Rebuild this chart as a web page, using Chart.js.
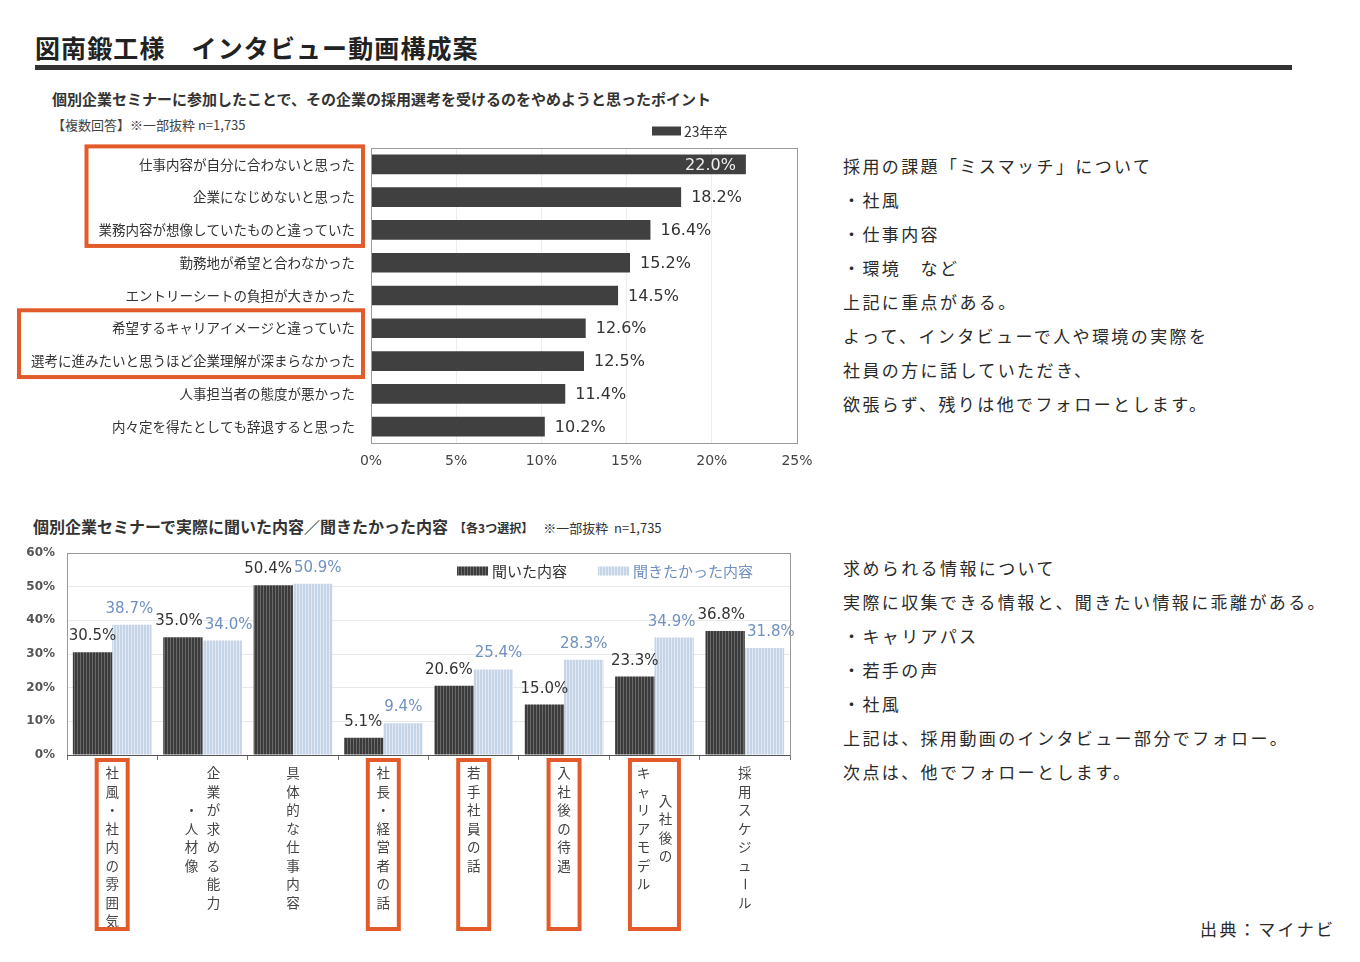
<!DOCTYPE html>
<html lang="ja">
<head>
<meta charset="utf-8">
<title>図南鍛工様 インタビュー動画構成案</title>
<script src="https://cdn.jsdelivr.net/npm/chart.js@4.4.0/dist/chart.umd.min.js"></script>
<style>
  body { margin: 0; background: #fff; font-family: "Noto Sans CJK JP", sans-serif; color: #333; }
  #page { position: relative; width: 1360px; height: 962px; overflow: hidden; }
  .abs { position: absolute; white-space: nowrap; }
  #title { left: 35px; top: 30px; font-size: 25px; font-weight: 700; line-height: 34px; letter-spacing: 1.1px; color: #222; }
  #rule { left: 35px; top: 65px; width: 1257px; height: 5px; background: #333; }
  #sub1 { left: 52px; top: 89px; font-size: 15px; font-weight: 700; line-height: 20px; color: #333; }
  #note1 { left: 52px; top: 116px; font-size: 13px; line-height: 18px; color: #444; }
  #sub2 { left: 33px; top: 515px; font-size: 16px; font-weight: 700; line-height: 22px; color: #333; }
  #sub2 .small { font-size: 12px; margin-left: 6px; }
  #sub2 .note { font-size: 13px; font-weight: 400; margin-left: 10px; }
  .memo { left: 843px; font-size: 17px; line-height: 34px; letter-spacing: 2.4px; color: #2a2a2a; }
  #memo1 { top: 149px; }
  #memo2 { top: 551px; }
  #source { left: 1200px; top: 912px; font-size: 17px; line-height: 34px; letter-spacing: 2.4px; color: #2a2a2a; }
  #c1 { position: absolute; left: 0; top: 110px; }
  #c2 { position: absolute; left: 0; top: 530px; }
</style>
</head>
<body>
<div id="page">
  <div id="title" class="abs">図南鍛工様　インタビュー動画構成案</div>
  <div id="rule" class="abs"></div>
  <div id="sub1" class="abs">個別企業セミナーに参加したことで、その企業の採用選考を受けるのをやめようと思ったポイント</div>
  <div id="note1" class="abs">【複数回答】※一部抜粋 n=1,735</div>
  <div id="sub2" class="abs">個別企業セミナーで実際に聞いた内容／聞きたかった内容<span class="small">【各3つ選択】</span><span class="note">※一部抜粋&nbsp; n=1,735</span></div>

  <div id="memo1" class="abs memo">採用の課題「ミスマッチ」について<br>・社風<br>・仕事内容<br>・環境　など<br>上記に重点がある。<br>よって、インタビューで人や環境の実際を<br>社員の方に話していただき、<br>欲張らず、残りは他でフォローとします。</div>
  <div id="memo2" class="abs memo">求められる情報について<br>実際に収集できる情報と、聞きたい情報に乖離がある。<br>・キャリアパス<br>・若手の声<br>・社風<br>上記は、採用動画のインタビュー部分でフォロー。<br>次点は、他でフォローとします。</div>
  <div id="source" class="abs">出典：マイナビ</div>

  <canvas id="c1" width="830" height="370"></canvas>
  <canvas id="c2" width="830" height="430"></canvas>
</div>

<script>
// ---- Data: top chart ----
const reasonLabels = [
  '仕事内容が自分に合わないと思った',
  '企業になじめないと思った',
  '業務内容が想像していたものと違っていた',
  '勤務地が希望と合わなかった',
  'エントリーシートの負担が大きかった',
  '希望するキャリアイメージと違っていた',
  '選考に進みたいと思うほど企業理解が深まらなかった',
  '人事担当者の態度が悪かった',
  '内々定を得たとしても辞退すると思った'
];
const reasonValues = [22.0, 18.2, 16.4, 15.2, 14.5, 12.6, 12.5, 11.4, 10.2];
const reasonSeries = '23年卒';
const reasonGroups = [[0, 2], [5, 6]];   // highlighted label rows

// ---- Data: bottom chart ----
// columns of vertical text, right column first
const topicColumns = [
  ['社風・社内の雰囲気'],
  ['企業が求める能力', '・人材像'],
  ['具体的な仕事内容'],
  ['社長・経営者の話'],
  ['若手社員の話'],
  ['入社後の待遇'],
  ['入社後の', 'キャリアモデル'],
  ['採用スケジュール']
];
const heardValues = [30.5, 35.0, 50.4, 5.1, 20.6, 15.0, 23.3, 36.8];
const wantedValues = [38.7, 34.0, 50.9, 9.4, 25.4, 28.3, 34.9, 31.8];
const seriesNames = ['聞いた内容', '聞きたかった内容'];
const topicHighlights = [0, 3, 4, 5, 6];

const ORANGE = '#E35B2A';
const JP = '"Noto Sans CJK JP", sans-serif';

Chart.defaults.font.family = '"DejaVu Sans", sans-serif';
Chart.defaults.color = '#444';

// ---- Striped fills ----
function stripes(ctx, base, line) {
  const tile = document.createElement('canvas');
  tile.width = 3; tile.height = 4;
  const t = tile.getContext('2d');
  t.fillStyle = base; t.fillRect(0, 0, 3, 4);
  t.fillStyle = line; t.fillRect(2, 0, 1, 4);
  return ctx.createPattern(tile, 'repeat');
}

// ---- Top chart decorations ----
const topDeco = {
  id: 'topDeco',
  afterDatasetsDraw(chart) {
    const ctx = chart.ctx;
    const area = chart.chartArea;
    const meta = chart.getDatasetMeta(0);
    ctx.save();
    ctx.font = '16px "DejaVu Sans", sans-serif';
    ctx.textBaseline = 'middle';
    meta.data.forEach((bar, i) => {
      const txt = reasonValues[i].toFixed(1) + '%';
      const w = ctx.measureText(txt).width;
      if (bar.x + 10 + w > area.right) {
        ctx.fillStyle = '#eeeeee';
        ctx.textAlign = 'right';
        ctx.fillText(txt, bar.x - 10, bar.y + 1);
      } else {
        ctx.fillStyle = '#333';
        ctx.textAlign = 'left';
        ctx.fillText(txt, bar.x + 10, bar.y + 1);
      }
    });
    ctx.restore();
  },
  afterDraw(chart) {
    const ctx = chart.ctx;
    const area = chart.chartArea;
    const y = chart.scales.y;
    ctx.save();
    // plot frame
    ctx.strokeStyle = '#999';
    ctx.lineWidth = 1;
    ctx.strokeRect(area.left + 0.5, area.top + 0.5, area.right - area.left, area.bottom - area.top);
    // legend
    const lx = area.right - 145, ly = area.top - 17;
    ctx.fillStyle = '#404040';
    ctx.fillRect(lx, ly - 4.5, 29, 9);
    ctx.fillStyle = '#333';
    ctx.font = '14px ' + JP;
    ctx.textBaseline = 'middle';
    ctx.textAlign = 'left';
    ctx.fillText(reasonSeries, lx + 32, ly + 1);
    // highlight boxes around label groups
    ctx.font = '13.5px ' + JP;
    const labelRight = area.left - 16;
    ctx.strokeStyle = ORANGE;
    ctx.lineWidth = 4;
    reasonGroups.forEach(([a, b]) => {
      let maxW = 0;
      for (let i = a; i <= b; i++) maxW = Math.max(maxW, ctx.measureText(reasonLabels[i]).width);
      const left = labelRight - maxW - 12;
      const right = area.left - 8;
      const top = y.getPixelForValue(a) - 18;
      const bottom = y.getPixelForValue(b) + 16;
      ctx.strokeRect(left, top, right - left, bottom - top);
    });
    ctx.restore();
  }
};

const ctx1 = document.getElementById('c1').getContext('2d');
new Chart(ctx1, {
  type: 'bar',
  data: {
    labels: reasonLabels,
    datasets: [{
      label: reasonSeries,
      data: reasonValues,
      backgroundColor: '#404040',
      barPercentage: 0.6,
      categoryPercentage: 1
    }]
  },
  options: {
    indexAxis: 'y',
    responsive: false,
    animation: false,
    layout: { padding: { top: 38, right: 33, left: 0, bottom: 0 } },
    plugins: { legend: { display: false }, tooltip: { enabled: false } },
    scales: {
      x: {
        min: 0, max: 25,
        ticks: { stepSize: 5, padding: 10, color: '#444', font: { size: 14 }, callback: v => v + '%' },
        grid: { color: '#ededed', drawTicks: false },
        border: { display: false },
        afterFit: s => { s.height = 37; }
      },
      y: {
        ticks: { padding: 16, color: '#333', font: { family: JP, size: 13.5 } },
        grid: { display: false, drawTicks: false },
        border: { display: false },
        afterFit: s => { s.width = 371; }
      }
    }
  },
  plugins: [topDeco]
});

// ---- Bottom chart ----
const ctx2 = document.getElementById('c2').getContext('2d');
const darkFill = stripes(ctx2, '#3b3b3b', '#6a6a6a');
const lightFill = stripes(ctx2, '#c6d4e7', '#e2e9f3');
const labelColors = ['#333333', '#7090c0'];

const bottomDeco = {
  id: 'bottomDeco',
  afterDatasetsDraw(chart) {
    const ctx = chart.ctx;
    ctx.save();
    ctx.font = '15px "DejaVu Sans", sans-serif';
    ctx.textAlign = 'center';
    ctx.textBaseline = 'alphabetic';
    // collect label boxes, then push apart overlapping neighbours sideways
    const items = [];
    chart.data.labels.forEach((_, i) => {
      chart.data.datasets.forEach((ds, d) => {
        const bar = chart.getDatasetMeta(d).data[i];
        const txt = ds.data[i].toFixed(1) + '%';
        items.push({ txt, d, x: bar.x, y: bar.y - 12, w: ctx.measureText(txt).width });
      });
    });
    for (let pass = 0; pass < 5; pass++) {
      for (let k = 0; k < items.length - 1; k++) {
        const a = items[k], b = items[k + 1];
        if (Math.abs(a.y - b.y) < 18) {
          const overlap = (a.w + b.w) / 2 + 2 - (b.x - a.x);
          if (overlap > 0) { a.x -= overlap / 2; b.x += overlap / 2; }
        }
      }
    }
    items.forEach(it => {
      ctx.fillStyle = labelColors[it.d];
      ctx.fillText(it.txt, it.x, it.y);
    });
    ctx.restore();
  },
  afterDraw(chart) {
    const ctx = chart.ctx;
    const area = chart.chartArea;
    const xs = chart.scales.x;
    ctx.save();
    // frame
    ctx.strokeStyle = '#999';
    ctx.lineWidth = 1;
    ctx.strokeRect(area.left + 0.5, area.top + 0.5, area.right - area.left, area.bottom - area.top);
    ctx.strokeStyle = '#555';
    ctx.beginPath();
    ctx.moveTo(area.left, area.bottom + 0.5);
    ctx.lineTo(area.right, area.bottom + 0.5);
    ctx.stroke();

    // legend inside plot
    ctx.font = '15px ' + JP;
    ctx.textBaseline = 'middle';
    ctx.textAlign = 'left';
    let lx = area.left + 390;
    const ly = area.top + 18;
    const fills = [darkFill, lightFill];
    seriesNames.forEach((name, d) => {
      ctx.fillStyle = fills[d];
      ctx.fillRect(lx, ly - 4.5, 31, 9);
      ctx.fillStyle = labelColors[d];
      ctx.fillText(name, lx + 35, ly);
      lx += 35 + ctx.measureText(name).width + 31;
    });

    // vertical category labels
    ctx.font = '13.5px ' + JP;
    ctx.fillStyle = '#444';
    ctx.textAlign = 'center';
    const step = 18.5, colGap = 22;
    const y0 = area.bottom + 18;
    topicColumns.forEach((cols, i) => {
      const cx = xs.getPixelForValue(i);
      const n = cols.length;
      const maxLen = Math.max(...cols.map(c => Array.from(c).length));
      const mid = y0 + (maxLen - 1) * step / 2;
      cols.forEach((col, j) => {
        const chars = Array.from(col);
        const x = cx + ((n - 1) / 2 - j) * colGap;
        const start = n === 1 ? y0 : mid - (chars.length - 1) * step / 2;
        chars.forEach((ch, k) => {
          const y = start + k * step;
          if (ch === 'ー') {
            ctx.save();
            ctx.translate(x, y);
            ctx.rotate(Math.PI / 2);
            ctx.fillText(ch, 0, 0);
            ctx.restore();
          } else {
            ctx.fillText(ch, x, y);
          }
        });
      });
    });

    // highlight boxes
    ctx.strokeStyle = ORANGE;
    ctx.lineWidth = 4;
    topicHighlights.forEach(i => {
      const cx = xs.getPixelForValue(i);
      const half = topicColumns[i].length === 1 ? 15.5 : 24.5;
      ctx.strokeRect(cx - half, area.bottom + 5, half * 2, 169);
    });
    ctx.restore();
  }
};

new Chart(ctx2, {
  type: 'bar',
  data: {
    labels: topicColumns.map(c => c.join('')),
    datasets: [
      { label: seriesNames[0], data: heardValues, backgroundColor: darkFill, barPercentage: 1, categoryPercentage: 0.87 },
      { label: seriesNames[1], data: wantedValues, backgroundColor: lightFill, barPercentage: 1, categoryPercentage: 0.87 }
    ]
  },
  options: {
    responsive: false,
    animation: false,
    layout: { padding: { top: 23, right: 40, left: 0, bottom: 0 } },
    plugins: { legend: { display: false }, tooltip: { enabled: false } },
    scales: {
      x: {
        ticks: { display: false },
        grid: { drawOnChartArea: false, drawTicks: true, tickLength: 5, color: '#777', offset: true },
        border: { display: false },
        afterFit: s => { s.height = 205; }
      },
      y: {
        min: 0, max: 60,
        ticks: { stepSize: 10, padding: 12, color: '#555', font: { size: 12, weight: 'bold' }, callback: v => v + '%' },
        grid: { color: '#e8e8e8', drawTicks: false },
        border: { display: false },
        afterFit: s => { s.width = 67; }
      }
    }
  },
  plugins: [bottomDeco]
});
</script>
</body>
</html>
